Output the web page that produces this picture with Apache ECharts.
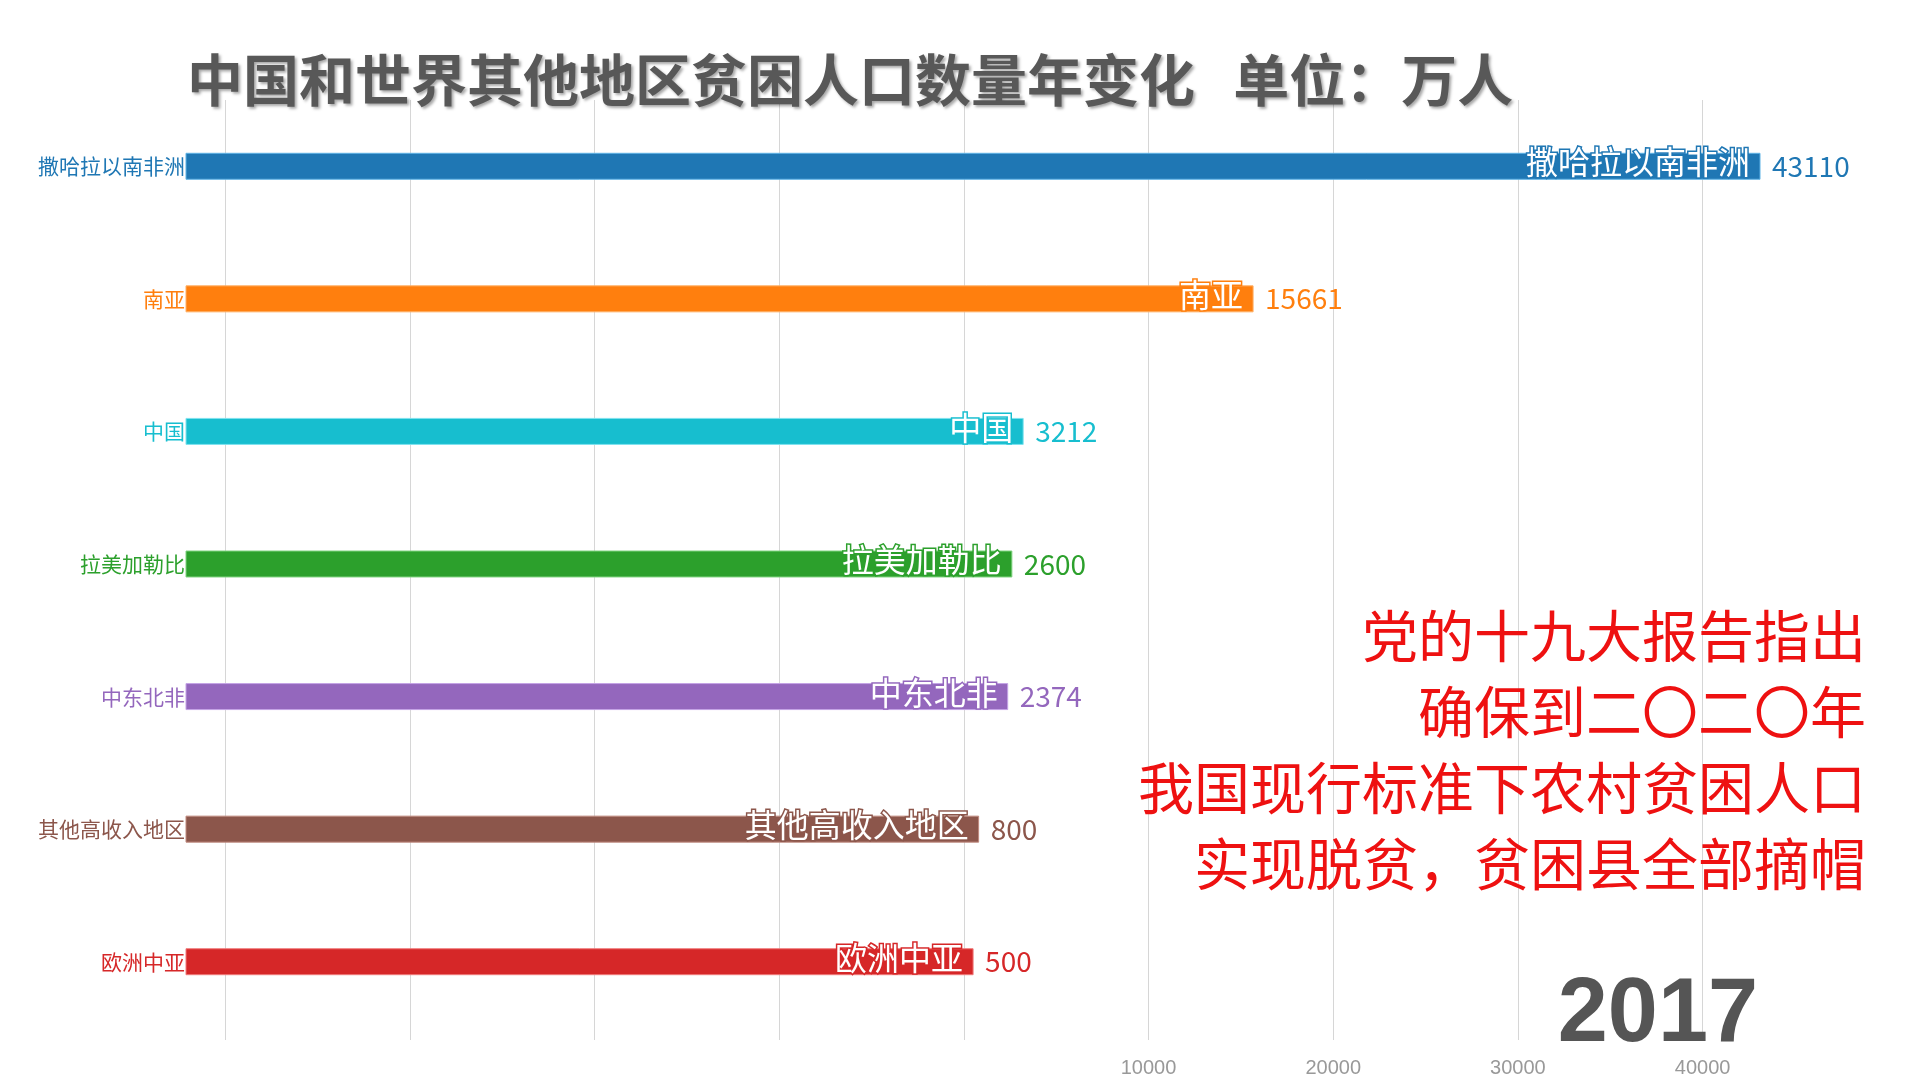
<!DOCTYPE html>
<html>
<head>
<meta charset="utf-8">
<script src="https://cdn.jsdelivr.net/npm/echarts@6/dist/echarts.min.js"></script>
<style>html,body{margin:0;padding:0;background:#fff;}#main{width:1920px;height:1080px;}</style>
</head>
<body>
<div id="main"></div>
<script>
// ---- data ----
const categories = ['撒哈拉以南非洲', '南亚', '中国', '拉美加勒比', '中东北非', '其他高收入地区', '欧洲中亚'];
const values = [43110, 15661, 3212, 2600, 2374, 800, 500];
const colors = ['#1f77b4', '#ff7f0e', '#17becf', '#2ca02c', '#9467bd', '#8c564b', '#d62728'];
const borderColors = ['#5fb3e6', '#ffb066', '#7fe3ef', '#7fd37f', '#c4a3e6', '#c08a7e', '#f07a7a'];
const year = '2017';
const titleText = '中国和世界其他地区贫困人口数量年变化   单位：万人';
const noteLines = ['党的十九大报告指出', '确保到二〇二〇年', '我国现行标准下农村贫困人口', '实现脱贫，贫困县全部摘帽'];
const X_MIN = -42120;
const X_MAX = 43110;

const CJK = '"Noto Sans CJK SC", "Noto Sans", sans-serif';

const chart = echarts.init(document.getElementById('main'), null, {renderer: 'canvas'});

function renderItem(params, api) {
  const idx = params.dataIndex;
  const v = api.value(0);
  const c = api.value(1);
  const p0 = api.coord([X_MIN, c]);
  const p1 = api.coord([v, c]);
  const band = api.size([0, 1])[1];
  const h = band * 0.196;
  const col = colors[idx];
  return {
    type: 'group',
    children: [
      {
        type: 'rect',
        shape: {x: p0[0], y: p0[1] - h / 2, width: p1[0] - p0[0], height: h},
        style: {fill: col, stroke: borderColors[idx], lineWidth: 1}
      },
      {
        type: 'text',
        x: p1[0] - 10,
        y: p1[1] - 4,
        z2: 10,
        style: {
          text: categories[idx], align: 'right', verticalAlign: 'middle',
          fill: '#ffffff', stroke: col, lineWidth: 3,
          fontSize: 32, fontFamily: CJK
        }
      },
      {
        type: 'text',
        x: p1[0] + 12,
        y: p1[1],
        z2: 10,
        style: {
          text: String(v), align: 'left', verticalAlign: 'middle',
          fill: col, fontSize: 28, fontFamily: CJK
        }
      }
    ]
  };
}

const option = {
  backgroundColor: '#ffffff',
  animation: false,
  grid: [
    {left: 186, right: 160, top: 100, height: 928},
    {left: 186, right: 160, top: 100, bottom: 40}
  ],
  xAxis: [
    {type: 'value', gridIndex: 0, min: X_MIN, max: X_MAX, show: false},
    {
      type: 'value', gridIndex: 1, min: X_MIN, max: X_MAX, splitNumber: 10,
      axisLine: {show: false}, axisTick: {show: false},
      splitLine: {show: true, showMinLine: false, showMaxLine: false, lineStyle: {color: '#d6d6d6', width: 1}},
      axisLabel: {
        showMinLabel: false, showMaxLabel: false, margin: 18,
        color: '#999999', fontSize: 20,
        fontFamily: '"Liberation Sans Narrow", "Liberation Sans", sans-serif',
        formatter: function (v) { return v > 0 ? String(v) : ''; }
      }
    }
  ],
  yAxis: [
    {
      type: 'category', gridIndex: 0, inverse: true, data: categories,
      axisLine: {show: false}, axisTick: {show: false}, splitLine: {show: false},
      axisLabel: {
        margin: 1, fontSize: 21, fontFamily: CJK,
        color: function (value, index) { return colors[index]; }
      }
    },
    {type: 'value', gridIndex: 1, show: false, min: 0, max: 1}
  ],
  series: [
    {
      type: 'custom',
      xAxisIndex: 0, yAxisIndex: 0,
      renderItem: renderItem,
      encode: {x: 0, y: 1},
      data: values.map(function (v, i) { return [v, i]; }),
      z: 5
    }
  ],
  graphic: [
    {
      type: 'text', left: 187, top: 52, z: 100,
      style: {
        text: titleText, fill: '#585858', fontSize: 56, fontWeight: 'bold', fontFamily: CJK,
        textShadowColor: 'rgba(0,0,0,0.35)', textShadowBlur: 3, textShadowOffsetX: 2, textShadowOffsetY: 2
      }
    },
    {
      type: 'text', x: 1866, y: 598, z: 100,
      style: {
        text: noteLines.join('\n'), align: 'right', verticalAlign: 'top',
        fill: '#ee1111', fontSize: 56, lineHeight: 76, fontFamily: CJK
      }
    },
    {
      type: 'text', x: 1758, y: 1016, z: 100,
      style: {
        text: year, align: 'right', verticalAlign: 'middle',
        fill: '#555555', fontSize: 90, fontWeight: 'bold',
        fontFamily: '"Liberation Sans", Arial, sans-serif'
      }
    }
  ]
};
chart.setOption(option);
</script>
</body>
</html>
